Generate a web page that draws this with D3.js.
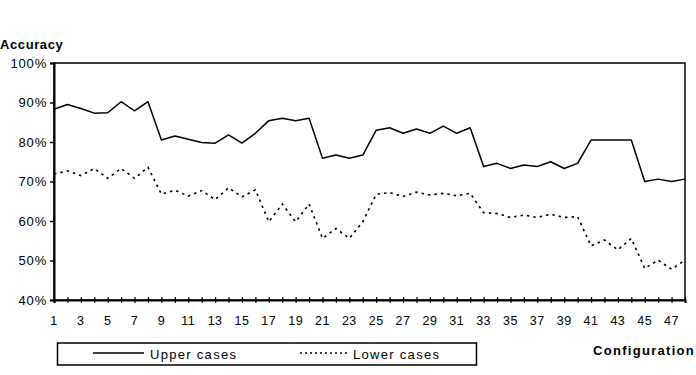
<html><head><meta http-equiv="Content-Type" content="text/html; charset=UTF-8"><title>accuracy per configuration</title>
<script src="https://cdn.jsdelivr.net/npm/d3@7"></script>
<style>
	body	{ margin:0; background:#fff; }
	svg	{ display:block; }
	text	{ font-family:"Liberation Sans",Arial,sans-serif; fill:#000; }
</style>
</head><body>
<svg width="696" height="375"></svg>
<script>
// configurations 1..48
var configs=d3.range(1,49);
var upperCases=[88.3,89.5,88.5,87.3,87.4,90.2,87.9,90.2,80.5,81.5,
	80.7,79.9,79.7,81.8,79.7,82.2,85.4,86.0,85.4,86.0,
	75.9,76.7,75.9,76.7,83.0,83.6,82.2,83.3,82.2,84.0,
	82.2,83.6,73.8,74.6,73.3,74.2,73.8,75.0,73.3,74.6,
	80.5,80.5,80.5,80.5,70.0,70.6,70.0,70.6];
var lowerCases=[71.9,72.7,71.5,73.3,70.8,73.3,70.8,73.6,66.8,67.8,
	66.3,67.7,65.4,68.4,66.1,67.9,59.8,64.3,59.8,64.3,
	55.6,58.1,55.6,59.8,66.8,67.2,66.2,67.3,66.6,67.0,
	66.4,67.0,62.1,61.9,60.9,61.5,60.9,61.7,60.9,61.1,
	53.7,55.2,52.7,55.6,48.0,50.1,47.8,50.1];
var yTicks=[40,50,60,70,80,90,100];
var xLabels=configs.filter(function(d){return d%2==1;});
var seriesNames=["Upper cases","Lower cases"];

var svg=d3.select('svg');
var L=54, R=685, T=63, B=300;
var x=d3.scaleLinear().domain([1,48]).range([L,R]);
var y=d3.scaleLinear().domain([40,100]).range([B,T]);

// frame
svg.append('rect').attr('x',L).attr('y',T).attr('width',R-L).attr('height',B-T)
	.attr('fill','none').attr('stroke','#000').attr('stroke-width',1.5);

// y axis
var ya=svg.append('g').attr('transform','translate('+L+',0)')
	.call(d3.axisLeft(y).tickValues(yTicks).tickSize(4).tickFormat(function(d){return d+'%';}));
ya.select('.domain').attr('stroke-width',2);
ya.selectAll('line').attr('stroke-width',1.5);
ya.selectAll('text').attr('font-size',13).attr('letter-spacing','0.8px').attr('x',-7)
	.style('font-family','"Liberation Sans",Arial,sans-serif');

// x axis, ticks cross the line
var xa=svg.append('g').attr('transform','translate(0,'+B+')')
	.call(d3.axisBottom(x).tickValues(configs).tickSize(3).tickFormat(''));
xa.select('.domain').attr('stroke-width',2);
xa.selectAll('line').attr('y1',-3).attr('stroke-width',1.2);
svg.append('g').selectAll('text').data(xLabels).join('text')
	.attr('x',function(d){return x(d);}).attr('y',325)
	.attr('text-anchor','middle').attr('font-size',12.5).attr('letter-spacing','0.5px')
	.text(function(d){return d;});

// lines
var line=function(vals){
	return d3.line().x(function(d,i){return x(configs[i]);}).y(function(d){return y(d);})(vals);
};
svg.append('path').attr('d',line(upperCases)).attr('fill','none')
	.attr('stroke','#000').attr('stroke-width',1.5).attr('stroke-linejoin','round');
svg.append('path').attr('d',line(lowerCases)).attr('fill','none')
	.attr('stroke','#000').attr('stroke-width',1.6).attr('stroke-dasharray','2.5,4');

// titles
svg.append('text').attr('x',0).attr('y',49).attr('font-size',13).attr('font-weight','bold')
	.attr('letter-spacing','0.6px').text('Accuracy');
svg.append('text').attr('x',593).attr('y',355).attr('font-size',13).attr('font-weight','bold')
	.attr('letter-spacing','1.3px').text('Configuration');

// legend
var lg=svg.append('g');
lg.append('rect').attr('x',57.5).attr('y',343).attr('width',419).attr('height',22)
	.attr('fill','none').attr('stroke','#000').attr('stroke-width',1.5);
lg.append('line').attr('x1',93).attr('x2',144).attr('y1',353).attr('y2',353)
	.attr('stroke','#000').attr('stroke-width',1.3);
lg.append('text').attr('x',150).attr('y',359).attr('font-size',13).attr('letter-spacing','1.3px').text(seriesNames[0]);
lg.append('line').attr('x1',300).attr('x2',348).attr('y1',353).attr('y2',353)
	.attr('stroke','#000').attr('stroke-width',1.3).attr('stroke-dasharray','2,3');
lg.append('text').attr('x',353).attr('y',359).attr('font-size',13).attr('letter-spacing','1.3px').text(seriesNames[1]);
</script>
</body></html>
